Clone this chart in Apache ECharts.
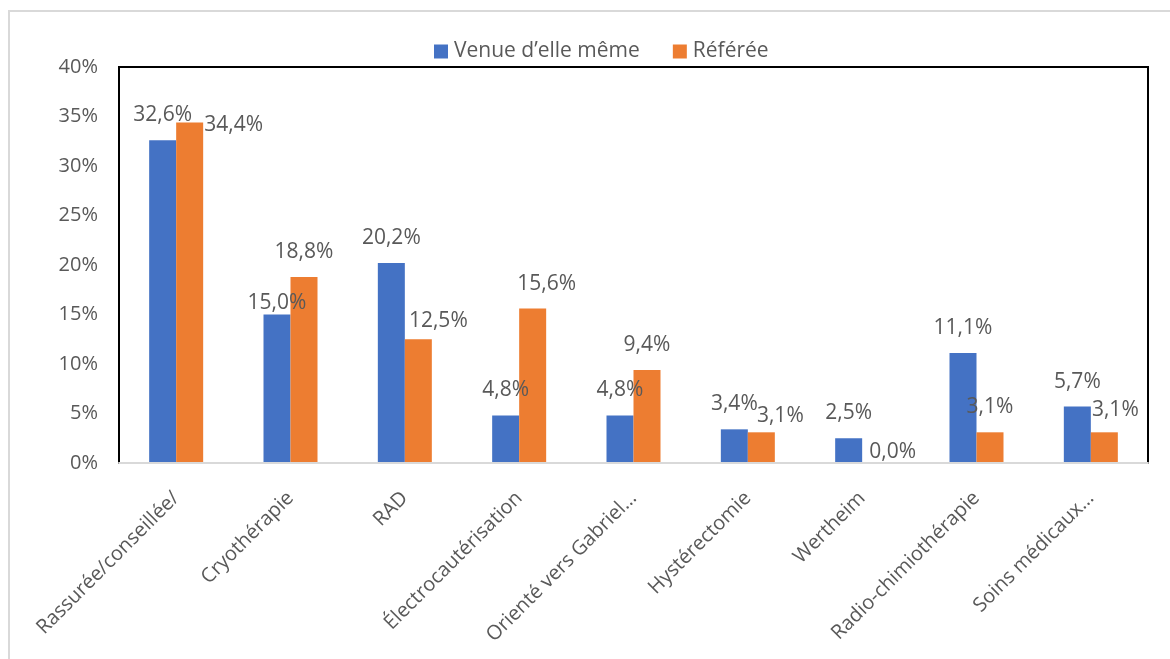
<!DOCTYPE html>
<html>
<head>
<meta charset="utf-8">
<script src="https://cdn.jsdelivr.net/npm/echarts@6/dist/echarts.min.js"></script>
<style>
  html, body { margin: 0; padding: 0; background: #fff; }
  #chart { width: 1170px; height: 659px; }
</style>
</head>
<body>
<div id="chart"></div>
<script>
// Prise en charge selon le mode d'arrivée (% par catégorie)
const categories = [
  'Rassurée/conseillée/',
  'Cryothérapie',
  'RAD',
  'Électrocautérisation',
  'Orienté vers Gabriel…',
  'Hystérectomie',
  'Wertheim',
  'Radio-chimiothérapie',
  'Soins médicaux…'
];
const seriesNames = ['Venue d’elle même', 'Référée'];
const venueValues = [32.6, 15.0, 20.2, 4.8, 4.8, 3.4, 2.5, 11.1, 5.7];
const refereeValues = [34.4, 18.8, 12.5, 15.6, 9.4, 3.1, 0.0, 3.1, 3.1];
const yTicks = [0, 5, 10, 15, 20, 25, 30, 35, 40];

// Nudges for data labels that would otherwise collide ([dx, dy] in px)
const venueLabelNudge = [[0,0],[0,14],[0,0],[0,0],[0,0],[0,0],[0,0],[0,0],[0,0]];
const refereeLabelNudge = [[44,28],[0,0],[20,7],[14,0],[0,0],[19,9],[17,14],[0,0],[11,3]];

const FONT = '"Open Sans", "Noto Sans", sans-serif';
const TEXT = '#595959';

function fmt(v) {
  return v.toFixed(1).replace('.', ',') + '%';
}

function buildData(values, nudges) {
  return values.map((v, i) => ({
    value: v,
    label: { offset: nudges[i] }
  }));
}

const labelStyle = {
  show: true,
  position: 'top',
  distance: 15,
  color: TEXT,
  fontSize: 21,
  lineHeight: 20,
  fontFamily: FONT,
  formatter: p => fmt(p.value)
};

const chart = echarts.init(document.getElementById('chart'), null, { renderer: 'canvas' });

chart.setOption({
  backgroundColor: '#fff',
  animation: false,
  textStyle: { fontFamily: FONT },
  graphic: [{
    type: 'rect',
    shape: { x: 9, y: 11, width: 1200, height: 700 },
    style: { fill: 'none', stroke: '#d9d9d9', lineWidth: 2 },
    silent: true
  }],
  legend: {
    data: seriesNames,
    left: 434,
    top: 41,
    padding: 0,
    icon: 'rect',
    itemWidth: 14,
    itemHeight: 14,
    itemGap: 33,
    textStyle: { color: TEXT, fontSize: 21, fontFamily: FONT, padding: [0, 0, 0, 1] }
  },
  grid: {
    left: 119,
    right: 22,
    top: 67,
    bottom: 196,
    show: true,
    borderColor: '#000',
    borderWidth: 2,
    backgroundColor: 'transparent'
  },
  xAxis: {
    type: 'category',
    data: categories,
    z: 5,
    axisLine: { show: true, lineStyle: { color: '#d9d9d9', width: 2 } },
    axisTick: { show: false },
    axisLabel: {
      interval: 0,
      rotate: 45,
      margin: 32,
      color: TEXT,
      fontSize: 20,
      fontFamily: FONT
    }
  },
  yAxis: {
    type: 'value',
    min: yTicks[0],
    max: yTicks[yTicks.length - 1],
    interval: 5,
    axisLine: { show: false },
    axisTick: { show: false },
    splitLine: { show: false },
    axisLabel: {
      margin: 21,
      color: TEXT,
      fontSize: 20,
      fontFamily: FONT,
      formatter: v => v + '%'
    }
  },
  series: [
    {
      name: seriesNames[0],
      type: 'bar',
      data: buildData(venueValues, venueLabelNudge),
      barWidth: 27,
      barGap: '0%',
      itemStyle: { color: '#4472C4' },
      label: labelStyle
    },
    {
      name: seriesNames[1],
      type: 'bar',
      data: buildData(refereeValues, refereeLabelNudge),
      barWidth: 27,
      barGap: '0%',
      itemStyle: { color: '#ED7D31' },
      label: labelStyle
    }
  ]
});
</script>
</body>
</html>
